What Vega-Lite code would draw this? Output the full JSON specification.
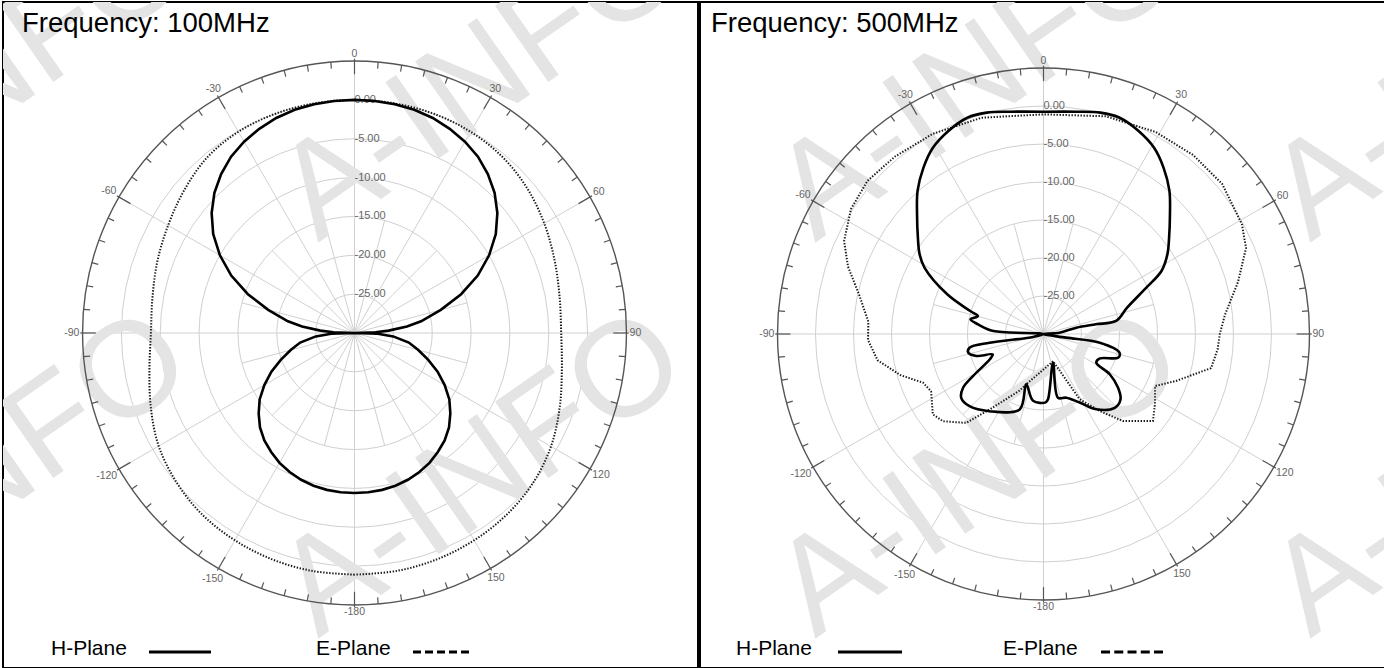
{
  "$schema": "https://vega.github.io/schema/vega-lite/v6.json",
  "background": "white",
  "padding": {"left": 2, "top": 1, "right": 0, "bottom": 0},
  "config": {"view": {"stroke": "#000000", "strokeWidth": 2}},
  "datasets": {
    "rings": [{"r": 5}, {"r": 10}, {"r": 15}, {"r": 20}, {"r": 25}, {"r": 30}],
    "outer": [{"r": 35}],
    "spokes": [{"a": 0}, {"a": 15}, {"a": 30}, {"a": 45}, {"a": 60}, {"a": 75}, {"a": 90}, {"a": 105}, {"a": 120}, {"a": 135}, {"a": 150}, {"a": 165}, {"a": 180}, {"a": 195}, {"a": 210}, {"a": 225}, {"a": 240}, {"a": 255}, {"a": 270}, {"a": 285}, {"a": 300}, {"a": 315}, {"a": 330}, {"a": 345}],
    "ticks": [{"a": 0}, {"a": 5}, {"a": 10}, {"a": 15}, {"a": 20}, {"a": 25}, {"a": 30}, {"a": 35}, {"a": 40}, {"a": 45}, {"a": 50}, {"a": 55}, {"a": 60}, {"a": 65}, {"a": 70}, {"a": 75}, {"a": 80}, {"a": 85}, {"a": 90}, {"a": 95}, {"a": 100}, {"a": 105}, {"a": 110}, {"a": 115}, {"a": 120}, {"a": 125}, {"a": 130}, {"a": 135}, {"a": 140}, {"a": 145}, {"a": 150}, {"a": 155}, {"a": 160}, {"a": 165}, {"a": 170}, {"a": 175}, {"a": 180}, {"a": 185}, {"a": 190}, {"a": 195}, {"a": 200}, {"a": 205}, {"a": 210}, {"a": 215}, {"a": 220}, {"a": 225}, {"a": 230}, {"a": 235}, {"a": 240}, {"a": 245}, {"a": 250}, {"a": 255}, {"a": 260}, {"a": 265}, {"a": 270}, {"a": 275}, {"a": 280}, {"a": 285}, {"a": 290}, {"a": 295}, {"a": 300}, {"a": 305}, {"a": 310}, {"a": 315}, {"a": 320}, {"a": 325}, {"a": 330}, {"a": 335}, {"a": 340}, {"a": 345}, {"a": 350}, {"a": 355}],
    "alabels": [{"a": 0, "t": "0"}, {"a": 30, "t": "30"}, {"a": 60, "t": "60"}, {"a": 90, "t": "90"}, {"a": 120, "t": "120"}, {"a": 150, "t": "150"}, {"a": 180, "t": "-180"}, {"a": -150, "t": "-150"}, {"a": -120, "t": "-120"}, {"a": -90, "t": "-90"}, {"a": -60, "t": "-60"}, {"a": -30, "t": "-30"}],
    "dblabels": [{"r": 30, "t": "0.00"}, {"r": 25, "t": "-5.00"}, {"r": 20, "t": "-10.00"}, {"r": 15, "t": "-15.00"}, {"r": 10, "t": "-20.00"}, {"r": 5, "t": "-25.00"}],
    "wm1": [{"t": "A-INFO", "col": -1, "row": 0}, {"t": "A-INFO", "col": 0, "row": 0}, {"t": "A-INFO", "col": -1, "row": 1}, {"t": "A-INFO", "col": 0, "row": 1}],
    "wm2": [{"t": "A-INFO", "col": 1, "row": 0}, {"t": "A-INFO", "col": 2, "row": 0}, {"t": "A-INFO", "col": 1, "row": 1}, {"t": "A-INFO", "col": 2, "row": 1}],
    "h100": [{"a": -180, "db": -9.4}, {"a": -175, "db": -9.42}, {"a": -170, "db": -9.5}, {"a": -165, "db": -9.65}, {"a": -160, "db": -9.9}, {"a": -155, "db": -10.25}, {"a": -150, "db": -10.7}, {"a": -145, "db": -11.3}, {"a": -140, "db": -11.95}, {"a": -135, "db": -12.8}, {"a": -130, "db": -13.9}, {"a": -125, "db": -15.1}, {"a": -120, "db": -16.6}, {"a": -115, "db": -18.2}, {"a": -110, "db": -19.9}, {"a": -105, "db": -21.5}, {"a": -100, "db": -22.9}, {"a": -95, "db": -25.0}, {"a": -92, "db": -27.0}, {"a": -90, "db": -30}, {"a": -88, "db": -27.3}, {"a": -86, "db": -25.6}, {"a": -83, "db": -23.2}, {"a": -80, "db": -21.3}, {"a": -75, "db": -18.5}, {"a": -70, "db": -15.4}, {"a": -65, "db": -12.5}, {"a": -60, "db": -10.0}, {"a": -55, "db": -7.8}, {"a": -50, "db": -6.0}, {"a": -45, "db": -4.5}, {"a": -40, "db": -3.3}, {"a": -35, "db": -2.3}, {"a": -30, "db": -1.57}, {"a": -25, "db": -1.0}, {"a": -20, "db": -0.55}, {"a": -15, "db": -0.26}, {"a": -10, "db": -0.1}, {"a": -5, "db": -0.02}, {"a": 0, "db": 0}, {"a": 5, "db": -0.02}, {"a": 10, "db": -0.1}, {"a": 15, "db": -0.26}, {"a": 20, "db": -0.55}, {"a": 25, "db": -1.0}, {"a": 30, "db": -1.57}, {"a": 35, "db": -2.3}, {"a": 40, "db": -3.3}, {"a": 45, "db": -4.5}, {"a": 50, "db": -6.0}, {"a": 55, "db": -7.8}, {"a": 60, "db": -10.0}, {"a": 65, "db": -12.5}, {"a": 70, "db": -15.4}, {"a": 75, "db": -18.5}, {"a": 80, "db": -21.3}, {"a": 83, "db": -23.2}, {"a": 86, "db": -25.6}, {"a": 88, "db": -27.3}, {"a": 90, "db": -30}, {"a": 92, "db": -27.0}, {"a": 95, "db": -25.0}, {"a": 100, "db": -22.9}, {"a": 105, "db": -21.5}, {"a": 110, "db": -19.9}, {"a": 115, "db": -18.2}, {"a": 120, "db": -16.6}, {"a": 125, "db": -15.1}, {"a": 130, "db": -13.9}, {"a": 135, "db": -12.8}, {"a": 140, "db": -11.95}, {"a": 145, "db": -11.3}, {"a": 150, "db": -10.7}, {"a": 155, "db": -10.25}, {"a": 160, "db": -9.9}, {"a": 165, "db": -9.65}, {"a": 170, "db": -9.5}, {"a": 175, "db": -9.42}, {"a": 180, "db": -9.4}],
    "e100": [{"a": -180, "db": 1.1}, {"a": -170, "db": 1.1}, {"a": -160, "db": 1.0}, {"a": -150, "db": 0.8}, {"a": -140, "db": 0.5}, {"a": -130, "db": -0.1}, {"a": -120, "db": -0.9}, {"a": -110, "db": -2.1}, {"a": -100, "db": -3.2}, {"a": -90, "db": -3.8}, {"a": -80, "db": -3.6}, {"a": -70, "db": -3.0}, {"a": -60, "db": -2.3}, {"a": -50, "db": -1.4}, {"a": -40, "db": -0.5}, {"a": -30, "db": -0.1}, {"a": -20, "db": 0.0}, {"a": -10, "db": 0.0}, {"a": 0, "db": 0.0}, {"a": 10, "db": 0.0}, {"a": 20, "db": 0.0}, {"a": 30, "db": -0.1}, {"a": 40, "db": -0.4}, {"a": 50, "db": -1.0}, {"a": 60, "db": -1.8}, {"a": 70, "db": -2.6}, {"a": 80, "db": -3.2}, {"a": 90, "db": -3.4}, {"a": 100, "db": -2.9}, {"a": 110, "db": -1.9}, {"a": 120, "db": -0.8}, {"a": 130, "db": 0.0}, {"a": 140, "db": 0.5}, {"a": 150, "db": 0.8}, {"a": 160, "db": 1.0}, {"a": 170, "db": 1.1}, {"a": 180, "db": 1.1}],
    "h500": [{"a": 0, "db": -0.75}, {"a": 8.7, "db": -0.41}, {"a": 14.4, "db": 0.07}, {"a": 19.4, "db": 0.17}, {"a": 25.1, "db": -0.5}, {"a": 30.7, "db": -1.5}, {"a": 35.8, "db": -3.0}, {"a": 41.3, "db": -4.9}, {"a": 46.6, "db": -7.1}, {"a": 52.6, "db": -9.2}, {"a": 57.2, "db": -10.6}, {"a": 61.9, "db": -12.4}, {"a": 65.8, "db": -15.2}, {"a": 72.6, "db": -18.5}, {"a": 79.8, "db": -20.3}, {"a": 79.5, "db": -23.0}, {"a": 79.1, "db": -25.6}, {"a": 85.4, "db": -27.9}, {"a": 90, "db": -30}, {"a": 99.2, "db": -27.0}, {"a": 98.8, "db": -22.5}, {"a": 103.8, "db": -19.7}, {"a": 107.6, "db": -19.7}, {"a": 113.4, "db": -21.9}, {"a": 118.5, "db": -22.1}, {"a": 121.3, "db": -19.8}, {"a": 125.8, "db": -17.9}, {"a": 130.4, "db": -16.7}, {"a": 136, "db": -16.5}, {"a": 145, "db": -17.9}, {"a": 152.2, "db": -19.8}, {"a": 160.3, "db": -21.1}, {"a": 167.2, "db": -21.4}, {"a": 161.7, "db": -26.0}, {"a": 176, "db": -21.4}, {"a": 178.2, "db": -21.0}, {"a": -171.1, "db": -21.1}, {"a": -161.1, "db": -23.0}, {"a": -162.5, "db": -19.6}, {"a": -145, "db": -17.6}, {"a": -134.3, "db": -16.4}, {"a": -127.8, "db": -16.3}, {"a": -123.7, "db": -17.3}, {"a": -120.8, "db": -19.2}, {"a": -115.2, "db": -22.2}, {"a": -111.9, "db": -22.8}, {"a": -108.1, "db": -20.7}, {"a": -103.9, "db": -19.8}, {"a": -100.5, "db": -20.1}, {"a": -99.2, "db": -22.8}, {"a": -106, "db": -28.6}, {"a": -90, "db": -30}, {"a": -86.6, "db": -23.4}, {"a": -81.6, "db": -21.3}, {"a": -78.6, "db": -20.2}, {"a": -74.7, "db": -21.05}, {"a": -72.6, "db": -19.9}, {"a": -67.6, "db": -16.3}, {"a": -60.9, "db": -12.1}, {"a": -57.2, "db": -10.6}, {"a": -52.6, "db": -9.2}, {"a": -46.6, "db": -7.1}, {"a": -41.3, "db": -4.9}, {"a": -35.8, "db": -3.0}, {"a": -30.7, "db": -1.5}, {"a": -25.1, "db": -0.5}, {"a": -19.4, "db": 0.17}, {"a": -14.4, "db": 0.07}, {"a": -8.7, "db": -0.41}, {"a": 0, "db": -0.75}],
    "e500": [{"a": -161, "db": -23.0}, {"a": -157, "db": -21.9}, {"a": -144.5, "db": -17.8}, {"a": -139, "db": -14.5}, {"a": -131, "db": -12.5}, {"a": -126, "db": -12.0}, {"a": -117, "db": -13.4}, {"a": -112, "db": -12.9}, {"a": -106, "db": -10.4}, {"a": -99, "db": -7.9}, {"a": -92, "db": -6.9}, {"a": -86, "db": -6.9}, {"a": -78, "db": -5.2}, {"a": -71, "db": -2.8}, {"a": -65, "db": -1.05}, {"a": -57, "db": 0.2}, {"a": -49, "db": 0.7}, {"a": -40, "db": 0.45}, {"a": -29, "db": 0.1}, {"a": -16, "db": -0.4}, {"a": 0, "db": -1.1}, {"a": 16, "db": -0.2}, {"a": 29, "db": 0.4}, {"a": 40, "db": 0.7}, {"a": 50, "db": 0.7}, {"a": 61, "db": -0.16}, {"a": 67, "db": -1.05}, {"a": 75, "db": -3.5}, {"a": 84, "db": -6.0}, {"a": 90, "db": -6.8}, {"a": 95, "db": -7.0}, {"a": 101.5, "db": -7.5}, {"a": 109.5, "db": -11.5}, {"a": 115, "db": -13.8}, {"a": 122, "db": -12.7}, {"a": 128.5, "db": -11.6}, {"a": 137.6, "db": -14.5}, {"a": 144, "db": -17.5}, {"a": 151, "db": -20.2}, {"a": 160.6, "db": -26.2}, {"a": -161, "db": -23.0}]
  },
  "hconcat": [
    {
      "width": 695,
      "height": 666,
      "layer": [
        {"data": {"name": "rings"}, "transform": [{"calculate": "0", "as": "c"}],
         "mark": {"type": "arc", "filled": false, "stroke": "#d0d0d0", "strokeWidth": 1},
         "encoding": {"x": {"field": "c", "type": "quantitative", "scale": {"domain": [-45.238, 44.208], "nice": false, "zero": false}, "axis": null},
                      "y": {"field": "c", "type": "quantitative", "scale": {"domain": [-43.115, 42.6], "nice": false, "zero": false}, "axis": null},
                      "radius": {"field": "r", "type": "quantitative", "stack": null, "scale": {"type": "linear", "domain": [0, 35], "range": [0, 271.95], "zero": true}}}},
        {"data": {"name": "spokes"}, "transform": [{"calculate": "0", "as": "c"}, {"calculate": "(datum.a % 30 == 0 ? 35 : 15)*sin(datum.a*PI/180)", "as": "xe"}, {"calculate": "(datum.a % 30 == 0 ? 35 : 15)*cos(datum.a*PI/180)", "as": "ye"}],
         "mark": {"type": "rule", "stroke": "#d0d0d0", "strokeWidth": 1},
         "encoding": {"x": {"field": "c", "type": "quantitative", "scale": {"domain": [-45.238, 44.208], "nice": false, "zero": false}, "axis": null},
                      "y": {"field": "c", "type": "quantitative", "scale": {"domain": [-43.115, 42.6], "nice": false, "zero": false}, "axis": null},
                      "x2": {"field": "xe"}, "y2": {"field": "ye"}}},
        {"data": {"name": "wm1"}, "transform": [{"calculate": "(317 + 495*datum.col - 353.5)/7.77", "as": "wx"}, {"calculate": "(332 - 242 - 396*datum.row)/7.77", "as": "wy"}],
         "mark": {"type": "text", "font": "Liberation Sans", "fontSize": 135, "fill": "#e4e4e4", "align": "left", "baseline": "alphabetic", "angle": -35, "clip": true},
         "encoding": {"x": {"field": "wx", "type": "quantitative", "scale": {"domain": [-45.238, 44.208], "nice": false, "zero": false}, "axis": null},
                      "y": {"field": "wy", "type": "quantitative", "scale": {"domain": [-43.115, 42.6], "nice": false, "zero": false}, "axis": null},
                      "text": {"field": "t", "type": "nominal"}}},
        {"data": {"name": "outer"}, "transform": [{"calculate": "0", "as": "c"}],
         "mark": {"type": "arc", "filled": false, "stroke": "#555555", "strokeWidth": 1.4},
         "encoding": {"x": {"field": "c", "type": "quantitative", "scale": {"domain": [-45.238, 44.208], "nice": false, "zero": false}, "axis": null},
                      "y": {"field": "c", "type": "quantitative", "scale": {"domain": [-43.115, 42.6], "nice": false, "zero": false}, "axis": null},
                      "radius": {"field": "r", "type": "quantitative", "stack": null, "scale": {"type": "linear", "domain": [0, 35], "range": [0, 271.95], "zero": true}}}},
        {"data": {"name": "ticks"}, "transform": [
            {"calculate": "datum.a % 30 == 0 ? 33.3 : 34.15", "as": "ri"},
            {"calculate": "datum.a % 30 == 0 ? 35.3 : 35", "as": "ro"},
            {"calculate": "datum.ri*sin(datum.a*PI/180)", "as": "xa"}, {"calculate": "datum.ri*cos(datum.a*PI/180)", "as": "ya"},
            {"calculate": "datum.ro*sin(datum.a*PI/180)", "as": "xb"}, {"calculate": "datum.ro*cos(datum.a*PI/180)", "as": "yb"}],
         "mark": {"type": "rule", "stroke": "#555555", "strokeWidth": 1.2},
         "encoding": {"x": {"field": "xa", "type": "quantitative", "scale": {"domain": [-45.238, 44.208], "nice": false, "zero": false}, "axis": null},
                      "y": {"field": "ya", "type": "quantitative", "scale": {"domain": [-43.115, 42.6], "nice": false, "zero": false}, "axis": null},
                      "x2": {"field": "xb"}, "y2": {"field": "yb"}}},
        {"data": {"name": "alabels"}, "transform": [
            {"calculate": "length(datum.t)*5.84 - (indexof(datum.t, '-') == 0 ? 2.34 : 0)", "as": "w"},
            {"calculate": "35.4 + (datum.w/2*abs(sin(datum.a*PI/180)) + 4*abs(cos(datum.a*PI/180)))/7.77", "as": "rc"},
            {"calculate": "datum.rc*sin(datum.a*PI/180)", "as": "xl"}, {"calculate": "datum.rc*cos(datum.a*PI/180)", "as": "yl"}],
         "mark": {"type": "text", "font": "Liberation Sans", "fontSize": 10.5, "fill": "#666666", "align": "center", "baseline": "middle"},
         "encoding": {"x": {"field": "xl", "type": "quantitative", "scale": {"domain": [-45.238, 44.208], "nice": false, "zero": false}, "axis": null},
                      "y": {"field": "yl", "type": "quantitative", "scale": {"domain": [-43.115, 42.6], "nice": false, "zero": false}, "axis": null},
                      "text": {"field": "t", "type": "nominal"}}},
        {"data": {"name": "dblabels"}, "transform": [{"calculate": "0", "as": "c"}],
         "mark": {"type": "text", "font": "Liberation Sans", "fontSize": 11, "fill": "#666666", "align": "left", "baseline": "middle"},
         "encoding": {"x": {"field": "c", "type": "quantitative", "scale": {"domain": [-45.238, 44.208], "nice": false, "zero": false}, "axis": null},
                      "y": {"field": "r", "type": "quantitative", "scale": {"domain": [-43.115, 42.6], "nice": false, "zero": false}, "axis": null},
                      "text": {"field": "t", "type": "nominal"}}},
        {"data": {"name": "e100"}, "transform": [{"window": [{"op": "row_number", "as": "i"}]}, {"calculate": "max(datum.db+30,0)*sin(datum.a*PI/180)", "as": "px"}, {"calculate": "max(datum.db+30,0)*cos(datum.a*PI/180)", "as": "py"}],
         "mark": {"type": "line", "stroke": "#1a1a1a", "strokeWidth": 2, "strokeDash": [1.4, 1.6], "interpolate": "catmull-rom"},
         "encoding": {"x": {"field": "px", "type": "quantitative", "scale": {"domain": [-45.238, 44.208], "nice": false, "zero": false}, "axis": null},
                      "y": {"field": "py", "type": "quantitative", "scale": {"domain": [-43.115, 42.6], "nice": false, "zero": false}, "axis": null},
                      "order": {"field": "i", "type": "quantitative"}}},
        {"data": {"name": "h100"}, "transform": [{"window": [{"op": "row_number", "as": "i"}]}, {"calculate": "max(datum.db+30,0)*sin(datum.a*PI/180)", "as": "px"}, {"calculate": "max(datum.db+30,0)*cos(datum.a*PI/180)", "as": "py"}],
         "mark": {"type": "line", "stroke": "#000000", "strokeWidth": 2.6},
         "encoding": {"x": {"field": "px", "type": "quantitative", "scale": {"domain": [-45.238, 44.208], "nice": false, "zero": false}, "axis": null},
                      "y": {"field": "py", "type": "quantitative", "scale": {"domain": [-43.115, 42.6], "nice": false, "zero": false}, "axis": null},
                      "order": {"field": "i", "type": "quantitative"}}},
        {"data": {"values": [{"t": "Frequency: 100MHz"}]}, "transform": [{"calculate": "-42.79", "as": "tx"}, {"calculate": "39.77", "as": "ty"}],
         "mark": {"type": "text", "font": "Liberation Sans", "fontSize": 27.5, "fill": "#000000", "align": "left", "baseline": "middle"},
         "encoding": {"x": {"field": "tx", "type": "quantitative", "scale": {"domain": [-45.238, 44.208], "nice": false, "zero": false}, "axis": null},
                      "y": {"field": "ty", "type": "quantitative", "scale": {"domain": [-43.115, 42.6], "nice": false, "zero": false}, "axis": null},
                      "text": {"field": "t", "type": "nominal"}}},
        {"data": {"values": [{"t": "H-Plane"}, {"t": "E-Plane"}]}, "transform": [{"calculate": "datum.t == 'H-Plane' ? -39.06 : -4.95", "as": "tx"}, {"calculate": "-40.67", "as": "ty"}],
         "mark": {"type": "text", "font": "Liberation Sans", "fontSize": 21, "fill": "#000000", "align": "left", "baseline": "middle"},
         "encoding": {"x": {"field": "tx", "type": "quantitative", "scale": {"domain": [-45.238, 44.208], "nice": false, "zero": false}, "axis": null},
                      "y": {"field": "ty", "type": "quantitative", "scale": {"domain": [-43.115, 42.6], "nice": false, "zero": false}, "axis": null},
                      "text": {"field": "t", "type": "nominal"}}},
        {"data": {"values": [{"p": "H-Plane"}]}, "transform": [{"calculate": "-26.45", "as": "x1"}, {"calculate": "-18.47", "as": "x2"}, {"calculate": "-41.06", "as": "ly"}],
         "mark": {"type": "rule", "stroke": "#000000", "strokeWidth": 3},
         "encoding": {"x": {"field": "x1", "type": "quantitative", "scale": {"domain": [-45.238, 44.208], "nice": false, "zero": false}, "axis": null},
                      "x2": {"field": "x2"},
                      "y": {"field": "ly", "type": "quantitative", "scale": {"domain": [-43.115, 42.6], "nice": false, "zero": false}, "axis": null}}},
        {"data": {"values": [{"p": "E-Plane"}]}, "transform": [{"calculate": "7.53", "as": "x1"}, {"calculate": "14.74", "as": "x2"}, {"calculate": "-41.06", "as": "ly"}],
         "mark": {"type": "rule", "stroke": "#000000", "strokeWidth": 3, "strokeDash": [8, 4]},
         "encoding": {"x": {"field": "x1", "type": "quantitative", "scale": {"domain": [-45.238, 44.208], "nice": false, "zero": false}, "axis": null},
                      "x2": {"field": "x2"},
                      "y": {"field": "ly", "type": "quantitative", "scale": {"domain": [-43.115, 42.6], "nice": false, "zero": false}, "axis": null}}}
      ]
    },
    {
      "width": 686,
      "height": 666,
      "layer": [
        {"data": {"name": "rings"}, "transform": [{"calculate": "0", "as": "c"}],
         "mark": {"type": "arc", "filled": false, "stroke": "#d0d0d0", "strokeWidth": 1},
         "encoding": {"x": {"field": "c", "type": "quantitative", "scale": {"domain": [-45.197, 45.066], "nice": false, "zero": false}, "axis": null},
                      "y": {"field": "c", "type": "quantitative", "scale": {"domain": [-43.947, 43.684], "nice": false, "zero": false}, "axis": null},
                      "radius": {"field": "r", "type": "quantitative", "stack": null, "scale": {"type": "linear", "domain": [0, 35], "range": [0, 266], "zero": true}}}},
        {"data": {"name": "spokes"}, "transform": [{"calculate": "0", "as": "c"}, {"calculate": "(datum.a % 30 == 0 ? 35 : 15)*sin(datum.a*PI/180)", "as": "xe"}, {"calculate": "(datum.a % 30 == 0 ? 35 : 15)*cos(datum.a*PI/180)", "as": "ye"}],
         "mark": {"type": "rule", "stroke": "#d0d0d0", "strokeWidth": 1},
         "encoding": {"x": {"field": "c", "type": "quantitative", "scale": {"domain": [-45.197, 45.066], "nice": false, "zero": false}, "axis": null},
                      "y": {"field": "c", "type": "quantitative", "scale": {"domain": [-43.947, 43.684], "nice": false, "zero": false}, "axis": null},
                      "x2": {"field": "xe"}, "y2": {"field": "ye"}}},
        {"data": {"name": "wm2"}, "transform": [{"calculate": "(317 + 495*datum.col - 1040.5)/7.6", "as": "wx"}, {"calculate": "(333 - 242 - 396*datum.row)/7.6", "as": "wy"}],
         "mark": {"type": "text", "font": "Liberation Sans", "fontSize": 135, "fill": "#e4e4e4", "align": "left", "baseline": "alphabetic", "angle": -35, "clip": true},
         "encoding": {"x": {"field": "wx", "type": "quantitative", "scale": {"domain": [-45.197, 45.066], "nice": false, "zero": false}, "axis": null},
                      "y": {"field": "wy", "type": "quantitative", "scale": {"domain": [-43.947, 43.684], "nice": false, "zero": false}, "axis": null},
                      "text": {"field": "t", "type": "nominal"}}},
        {"data": {"name": "outer"}, "transform": [{"calculate": "0", "as": "c"}],
         "mark": {"type": "arc", "filled": false, "stroke": "#555555", "strokeWidth": 1.4},
         "encoding": {"x": {"field": "c", "type": "quantitative", "scale": {"domain": [-45.197, 45.066], "nice": false, "zero": false}, "axis": null},
                      "y": {"field": "c", "type": "quantitative", "scale": {"domain": [-43.947, 43.684], "nice": false, "zero": false}, "axis": null},
                      "radius": {"field": "r", "type": "quantitative", "stack": null, "scale": {"type": "linear", "domain": [0, 35], "range": [0, 266], "zero": true}}}},
        {"data": {"name": "ticks"}, "transform": [
            {"calculate": "datum.a % 30 == 0 ? 33.3 : 34.15", "as": "ri"},
            {"calculate": "datum.a % 30 == 0 ? 35.3 : 35", "as": "ro"},
            {"calculate": "datum.ri*sin(datum.a*PI/180)", "as": "xa"}, {"calculate": "datum.ri*cos(datum.a*PI/180)", "as": "ya"},
            {"calculate": "datum.ro*sin(datum.a*PI/180)", "as": "xb"}, {"calculate": "datum.ro*cos(datum.a*PI/180)", "as": "yb"}],
         "mark": {"type": "rule", "stroke": "#555555", "strokeWidth": 1.2},
         "encoding": {"x": {"field": "xa", "type": "quantitative", "scale": {"domain": [-45.197, 45.066], "nice": false, "zero": false}, "axis": null},
                      "y": {"field": "ya", "type": "quantitative", "scale": {"domain": [-43.947, 43.684], "nice": false, "zero": false}, "axis": null},
                      "x2": {"field": "xb"}, "y2": {"field": "yb"}}},
        {"data": {"name": "alabels"}, "transform": [
            {"calculate": "length(datum.t)*5.84 - (indexof(datum.t, '-') == 0 ? 2.34 : 0)", "as": "w"},
            {"calculate": "35.4 + (datum.w/2*abs(sin(datum.a*PI/180)) + 4*abs(cos(datum.a*PI/180)))/7.6", "as": "rc"},
            {"calculate": "datum.rc*sin(datum.a*PI/180)", "as": "xl"}, {"calculate": "datum.rc*cos(datum.a*PI/180)", "as": "yl"}],
         "mark": {"type": "text", "font": "Liberation Sans", "fontSize": 10.5, "fill": "#666666", "align": "center", "baseline": "middle"},
         "encoding": {"x": {"field": "xl", "type": "quantitative", "scale": {"domain": [-45.197, 45.066], "nice": false, "zero": false}, "axis": null},
                      "y": {"field": "yl", "type": "quantitative", "scale": {"domain": [-43.947, 43.684], "nice": false, "zero": false}, "axis": null},
                      "text": {"field": "t", "type": "nominal"}}},
        {"data": {"name": "dblabels"}, "transform": [{"calculate": "0", "as": "c"}],
         "mark": {"type": "text", "font": "Liberation Sans", "fontSize": 11, "fill": "#666666", "align": "left", "baseline": "middle"},
         "encoding": {"x": {"field": "c", "type": "quantitative", "scale": {"domain": [-45.197, 45.066], "nice": false, "zero": false}, "axis": null},
                      "y": {"field": "r", "type": "quantitative", "scale": {"domain": [-43.947, 43.684], "nice": false, "zero": false}, "axis": null},
                      "text": {"field": "t", "type": "nominal"}}},
        {"data": {"name": "e500"}, "transform": [{"window": [{"op": "row_number", "as": "i"}]}, {"calculate": "max(datum.db+30,0)*sin(datum.a*PI/180)", "as": "px"}, {"calculate": "max(datum.db+30,0)*cos(datum.a*PI/180)", "as": "py"}],
         "mark": {"type": "line", "stroke": "#1a1a1a", "strokeWidth": 2, "strokeDash": [1.4, 1.6]},
         "encoding": {"x": {"field": "px", "type": "quantitative", "scale": {"domain": [-45.197, 45.066], "nice": false, "zero": false}, "axis": null},
                      "y": {"field": "py", "type": "quantitative", "scale": {"domain": [-43.947, 43.684], "nice": false, "zero": false}, "axis": null},
                      "order": {"field": "i", "type": "quantitative"}}},
        {"data": {"name": "h500"}, "transform": [{"window": [{"op": "row_number", "as": "i"}]}, {"calculate": "max(datum.db+30,0)*sin(datum.a*PI/180)", "as": "px"}, {"calculate": "max(datum.db+30,0)*cos(datum.a*PI/180)", "as": "py"}],
         "mark": {"type": "line", "stroke": "#000000", "strokeWidth": 2.6, "interpolate": "catmull-rom"},
         "encoding": {"x": {"field": "px", "type": "quantitative", "scale": {"domain": [-45.197, 45.066], "nice": false, "zero": false}, "axis": null},
                      "y": {"field": "py", "type": "quantitative", "scale": {"domain": [-43.947, 43.684], "nice": false, "zero": false}, "axis": null},
                      "order": {"field": "i", "type": "quantitative"}}},
        {"data": {"values": [{"t": "Frequency: 500MHz"}]}, "transform": [{"calculate": "-43.75", "as": "tx"}, {"calculate": "40.79", "as": "ty"}],
         "mark": {"type": "text", "font": "Liberation Sans", "fontSize": 27.5, "fill": "#000000", "align": "left", "baseline": "middle"},
         "encoding": {"x": {"field": "tx", "type": "quantitative", "scale": {"domain": [-45.197, 45.066], "nice": false, "zero": false}, "axis": null},
                      "y": {"field": "ty", "type": "quantitative", "scale": {"domain": [-43.947, 43.684], "nice": false, "zero": false}, "axis": null},
                      "text": {"field": "t", "type": "nominal"}}},
        {"data": {"values": [{"t": "H-Plane"}, {"t": "E-Plane"}]}, "transform": [{"calculate": "datum.t == 'H-Plane' ? -40.46 : -5.33", "as": "tx"}, {"calculate": "-41.45", "as": "ty"}],
         "mark": {"type": "text", "font": "Liberation Sans", "fontSize": 21, "fill": "#000000", "align": "left", "baseline": "middle"},
         "encoding": {"x": {"field": "tx", "type": "quantitative", "scale": {"domain": [-45.197, 45.066], "nice": false, "zero": false}, "axis": null},
                      "y": {"field": "ty", "type": "quantitative", "scale": {"domain": [-43.947, 43.684], "nice": false, "zero": false}, "axis": null},
                      "text": {"field": "t", "type": "nominal"}}},
        {"data": {"values": [{"p": "H-Plane"}]}, "transform": [{"calculate": "-27.04", "as": "x1"}, {"calculate": "-18.62", "as": "x2"}, {"calculate": "-41.84", "as": "ly"}],
         "mark": {"type": "rule", "stroke": "#000000", "strokeWidth": 3},
         "encoding": {"x": {"field": "x1", "type": "quantitative", "scale": {"domain": [-45.197, 45.066], "nice": false, "zero": false}, "axis": null},
                      "x2": {"field": "x2"},
                      "y": {"field": "ly", "type": "quantitative", "scale": {"domain": [-43.947, 43.684], "nice": false, "zero": false}, "axis": null}}},
        {"data": {"values": [{"p": "E-Plane"}]}, "transform": [{"calculate": "7.57", "as": "x1"}, {"calculate": "15.72", "as": "x2"}, {"calculate": "-41.84", "as": "ly"}],
         "mark": {"type": "rule", "stroke": "#000000", "strokeWidth": 3, "strokeDash": [9, 4.25]},
         "encoding": {"x": {"field": "x1", "type": "quantitative", "scale": {"domain": [-45.197, 45.066], "nice": false, "zero": false}, "axis": null},
                      "x2": {"field": "x2"},
                      "y": {"field": "ly", "type": "quantitative", "scale": {"domain": [-43.947, 43.684], "nice": false, "zero": false}, "axis": null}}}
      ]
    }
  ],
  "spacing": 0
}
